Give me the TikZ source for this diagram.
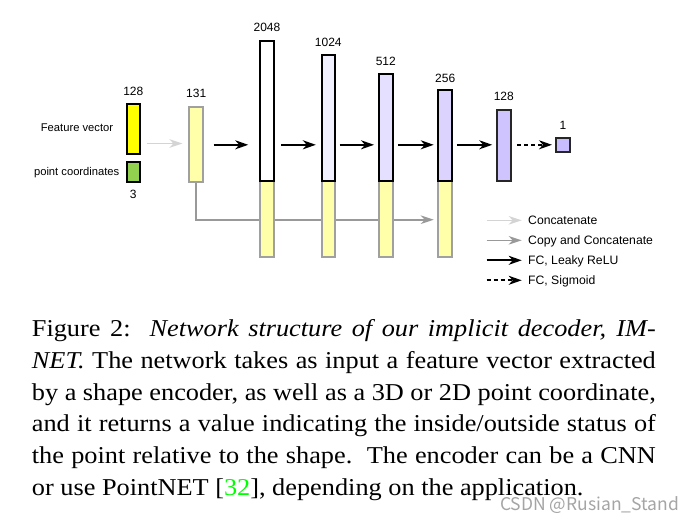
\documentclass[tikz,border=0pt]{standalone}
\usepackage{fontspec}
\usepackage{graphicx}
\setmainfont{Liberation Serif}
\newfontfamily\arialf{Liberation Sans}
\newfontfamily\wmfont{Noto Sans CJK SC}
\usetikzlibrary{arrows.meta}
\definecolor{fvyellow}{RGB}{255,255,0}
\definecolor{ptgreen}{RGB}{146,208,80}
\definecolor{paleyellow}{RGB}{255,255,170}
\definecolor{bordergray}{RGB}{160,160,160}
\definecolor{lav1}{RGB}{240,240,255}
\definecolor{lav2}{RGB}{229,224,255}
\definecolor{lav3}{RGB}{220,212,255}
\definecolor{lav4}{RGB}{208,196,255}
\definecolor{lav5}{RGB}{200,188,255}
\definecolor{lightarrow}{RGB}{212,212,212}
\definecolor{copygray}{RGB}{153,153,153}
\definecolor{wmgray}{RGB}{165,165,165}
\definecolor{citegreen}{RGB}{0,255,0}
\pgfdeclarelayer{back}
\pgfsetlayers{back,main}
\begin{document}
\begin{tikzpicture}[x=1pt,y=-1pt,
  blk/.style={draw=black, line width=2pt, inner sep=0pt, minimum width=13.5pt},
  yel/.style={draw=bordergray, fill=paleyellow, line width=2pt, inner sep=0pt, minimum width=13.5pt, minimum height=76.6pt},
  num/.style={font=\arialf\fontsize{12}{14}\selectfont, inner sep=0pt, anchor=base},
  lab/.style={font=\arialf\fontsize{11.2}{13}\selectfont, inner sep=0pt},
  leg/.style={font=\arialf\fontsize{12.2}{14}\selectfont, inner sep=0pt, anchor=base west},
  fc/.style={color=black, line width=1.9pt, -{Stealth[length=13pt,width=9pt,inset=4pt]}},
  sig/.style={fc, dash pattern=on 4pt off 3pt},
  conc/.style={color=lightarrow, line width=1.6pt, -{Stealth[length=13pt,width=8.5pt,inset=4pt]}},
  copyarr/.style={color=copygray, line width=1.6pt, -{Stealth[length=13pt,width=8.5pt,inset=4pt]}}
]
\begin{pgfonlayer}{back}
\fill[white] (0,0) rectangle (688,523);
\end{pgfonlayer}
\useasboundingbox (0,0) rectangle (688,523);

\coordinate (row) at (0,144.8);
\coordinate (crow) at (0,143.5);
\coordinate (copyrow) at (0,219.7);

% inputs
\node[blk, fill=fvyellow, minimum width=13.3pt, minimum height=49.4pt] (fv) at (133.3,129) {};
\node[blk, fill=ptgreen, minimum width=13.3pt, minimum height=19.7pt] (pc) at (133.3,172.2) {};
\node[lab] (fvlab) at (77,127.7) {Feature vector};
\node[lab] (pclab) at (76.7,173) {point coordinates};
\node[num] (n128a) at ([yshift=7.5pt]fv.north) {128};
\node[num] (n3) at ([yshift=-15pt]pc.south) {3};

% concatenated input
\node[yel, minimum height=75pt] (c131) at (196.2,144.2) {};
\node[num] (n131) at ([yshift=8.6pt]c131.north) {131};

% columns: yellow copies
\node[yel] (y2048) at (267,219) {};
\node[yel] (y1024) at (328.3,219) {};
\node[yel] (y512) at (385.8,219) {};
\node[yel] (y256) at (445.2,219) {};

% columns: layer outputs
\node[blk, fill=white, minimum height=139.7pt] (t2048) at (267,110.85) {};
\node[blk, fill=lav1, minimum height=125.4pt] (t1024) at (328.3,118) {};
\node[blk, fill=lav2, minimum height=107pt] (t512) at (385.8,127.2) {};
\node[blk, fill=lav3, minimum height=90.4pt] (t256) at (445.2,135.5) {};
\node[blk, draw=black!85, fill=lav4, minimum width=13.7pt, minimum height=70.7pt] (t128) at (503.8,145.35) {};
\node[blk, draw=black!85, fill=lav5, minimum width=13.4pt, minimum height=14.6pt] (o1) at (563,145) {};

\node[num] (n2048) at ([yshift=8.9pt]t2048.north) {2048};
\node[num] (n1024) at ([yshift=7.5pt]t1024.north) {1024};
\node[num] (n512) at ([yshift=7.6pt]t512.north) {512};
\node[num] (n256) at ([yshift=6.5pt]t256.north) {256};
\node[num] (n128b) at ([yshift=8.2pt]t128.north) {128};
\node[num] (n1) at ([yshift=7.3pt]o1.north) {1};

% copy-and-concatenate line (behind the columns)
\begin{pgfonlayer}{back}
\draw[copyarr, shorten >=3.7pt] (c131.south) -- (c131.south |- copyrow) -- (y256.west |- copyrow);
\end{pgfonlayer}

% arrows
\draw[conc, shorten <=6pt, shorten >=6pt] (fv.east |- crow) -- (c131.west |- crow);
\draw[fc, shorten <=9.6pt, shorten >=11pt] (c131.east |- row) -- (t2048.west |- row);
\draw[fc, shorten <=6.3pt, shorten >=4.7pt] (t2048.east |- row) -- (t1024.west |- row);
\draw[fc, shorten <=3.5pt, shorten >=4pt] (t1024.east |- row) -- (t512.west |- row);
\draw[fc, shorten <=4.4pt, shorten >=3.7pt] (t512.east |- row) -- (t256.west |- row);
\draw[fc, shorten <=4pt, shorten >=3.7pt] (t256.east |- row) -- (t128.west |- row);
\draw[sig, shorten <=5.6pt, shorten >=3.3pt] (t128.east |- row) -- (o1.west |- row);

% legend
\coordinate (l1) at (486.7,220.3);
\coordinate (l2) at (486.7,240.3);
\coordinate (l3) at (486.7,260.3);
\coordinate (l4) at (486.7,280.3);
\node[leg] (g1) at (528,224.7) {Concatenate};
\node[leg] (g2) at (528,244.7) {Copy and Concatenate};
\node[leg] (g3) at (528,264.7) {FC, Leaky ReLU};
\node[leg] (g4) at (528,284.7) {FC, Sigmoid};
\draw[conc, shorten >=6.3pt] (l1) -- (l1 -| g1.west);
\draw[copyarr, shorten >=6.3pt] (l2) -- (l2 -| g2.west);
\draw[fc, shorten >=6.3pt] (l3) -- (l3 -| g3.west);
\draw[sig, shorten >=6.3pt] (l4) -- (l4 -| g4.west);

% caption
\node[anchor=base west, inner sep=0pt] (cap) at (31.7,336.7) {\scalebox{1.087}[1]{\parbox[t]{574pt}{\fontsize{24.2}{31.7}\selectfont
\makebox[574pt][s]{Figure 2:\ \ \textit{Network structure of our implicit decoder, IM-}}\\
\makebox[574pt][s]{\textit{NET.} The network takes as input a feature vector extracted}\\
\makebox[574pt][s]{by a shape encoder, as well as a 3D or 2D point coordinate,}\\
\makebox[574pt][s]{and it returns a value indicating the inside/outside status of}\\
\makebox[574pt][s]{the point relative to the shape.\ \ The encoder can be a CNN}\\
or use PointNET [\textcolor{citegreen}{32}], depending on the application.}}};

% watermark
\node[font=\wmfont\fontsize{17.5}{20}\selectfont, text=wmgray, anchor=base west, inner sep=0pt] (wm) at (500,510) {CSDN @Rusian\_Stand};
\end{tikzpicture}
\end{document}
